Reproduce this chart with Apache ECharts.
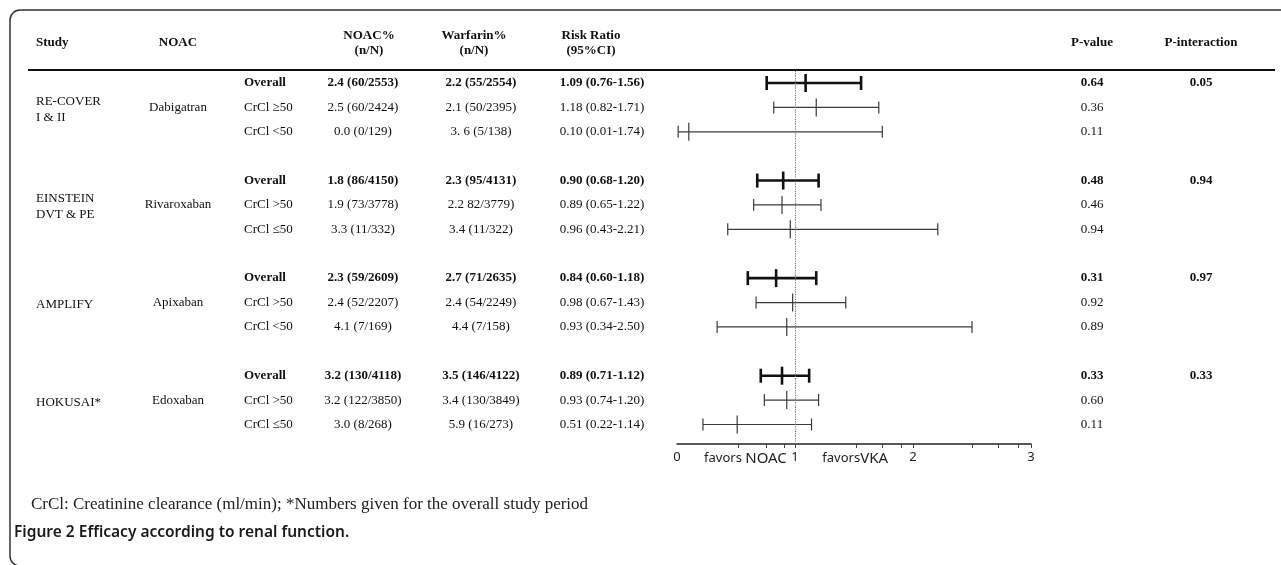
<!DOCTYPE html>
<html>
<head>
<meta charset="utf-8">
<title>Efficacy according to renal function</title>
<script src="https://cdn.jsdelivr.net/npm/echarts@6/dist/echarts.min.js"></script>
<style>
  html, body { margin: 0; padding: 0; background: #fff; }
  #chart { width: 1281px; height: 565px; }
</style>
</head>
<body>
<div id="chart"></div>
<script>
  // study level
  var studies = ['RE-COVER\nI & II', 'EINSTEIN\nDVT & PE', 'AMPLIFY', 'HOKUSAI*'];
  var drugs = ['Dabigatran', 'Rivaroxaban', 'Apixaban', 'Edoxaban'];
  var groupRow = [1, 5, 9, 13];
  var pInteraction = ['0.05', '0.94', '0.97', '0.33'];

  // subgroup rows (row index leaves a blank row between studies)
  var rows = [0, 1, 2, 4, 5, 6, 8, 9, 10, 12, 13, 14];
  var subgroups = ['Overall', 'CrCl \u226550', 'CrCl <50',
                   'Overall', 'CrCl >50', 'CrCl \u226450',
                   'Overall', 'CrCl >50', 'CrCl <50',
                   'Overall', 'CrCl >50', 'CrCl \u226450'];
  var noacPct = ['2.4 (60/2553)', '2.5 (60/2424)', '0.0 (0/129)',
                 '1.8 (86/4150)', '1.9 (73/3778)', '3.3 (11/332)',
                 '2.3 (59/2609)', '2.4 (52/2207)', '4.1 (7/169)',
                 '3.2 (130/4118)', '3.2 (122/3850)', '3.0 (8/268)'];
  var warfPct = ['2.2 (55/2554)', '2.1 (50/2395)', '3. 6 (5/138)',
                 '2.3 (95/4131)', '2.2 82/3779)', '3.4 (11/322)',
                 '2.7 (71/2635)', '2.4 (54/2249)', '4.4 (7/158)',
                 '3.5 (146/4122)', '3.4 (130/3849)', '5.9 (16/273)'];
  var rr = [1.09, 1.18, 0.10, 0.90, 0.89, 0.96, 0.84, 0.98, 0.93, 0.89, 0.93, 0.51];
  var lo = [0.76, 0.82, 0.01, 0.68, 0.65, 0.43, 0.60, 0.67, 0.34, 0.71, 0.74, 0.22];
  var hi = [1.56, 1.71, 1.74, 1.20, 1.22, 2.21, 1.18, 1.43, 2.50, 1.12, 1.20, 1.14];
  var pValue = ['0.64', '0.36', '0.11', '0.48', '0.46', '0.94', '0.31', '0.92', '0.89', '0.33', '0.60', '0.11'];

  // x axis
  var axisLabels = [0, 0.58, 1, 1.51, 2, 3];
  var axisLabelText = ['0', '{s|favors} {b|NOAC}', '1', '{s|favors}{b|VKA}', '2', '3'];
  var axisTicks = [0.52, 0.76, 0.91, 1, 1.52, 1.74, 1.9, 2, 2.5, 2.72, 2.89, 3];

  var serif = "'Liberation Serif', 'Times New Roman', serif";
  var sans = "'Noto Sans', 'Open Sans', sans-serif";
  // column x positions: values / headers
  var col = { study: 36, drug: 178, sub: 244, noac: 363, warf: 481, rr: 602, p: 1092, pi: 1201 };
  var head = { noac: 369, warf: 474, rr: 591 };

  function fmt(v) { return v.toFixed(2); }

  function txt(x, y, text, bold, align) {
    return {
      type: 'text', x: x, y: y,
      style: {
        text: text,
        font: (bold ? 'bold ' : '') + '13px ' + serif,
        fill: '#111',
        align: align || 'center', verticalAlign: 'middle',
        textAlign: align || 'center', textVerticalAlign: 'middle',
        lineHeight: 16
      }
    };
  }

  var myChart = echarts.init(document.getElementById('chart'));

  var option = {
    backgroundColor: '#fff',
    animation: false,
    grid: { left: 677, width: 354, top: 70.8, height: 373.2 },
    xAxis: {
      type: 'value', min: 0, max: 3,
      axisLine: { onZero: false, lineStyle: { color: '#222', width: 1.5 } },
      axisTick: { customValues: axisTicks, length: 4, lineStyle: { color: '#444' } },
      axisLabel: {
        customValues: axisLabels,
        margin: 7,
        color: '#222',
        fontFamily: sans,
        fontSize: 13,
        formatter: function (v) {
          return axisLabelText[axisLabels.indexOf(v)];
        },
        rich: {
          s: { fontFamily: sans, fontSize: 13, color: '#222' },
          b: { fontFamily: sans, fontSize: 15, color: '#222' }
        }
      },
      splitLine: { show: false }
    },
    yAxis: { type: 'value', inverse: true, min: -0.5, max: 14.8, show: false },
    graphic: [
      { type: 'rect', shape: { x: 10, y: 10, width: 1300, height: 556, r: 10 },
        style: { fill: 'none', stroke: '#333', lineWidth: 1.5 } },
      { type: 'line', shape: { x1: 28, y1: 70, x2: 1275, y2: 70 },
        style: { stroke: '#111', lineWidth: 2 } },
      txt(col.study, 43, 'Study', true, 'left'),
      txt(col.drug, 43, 'NOAC', true),
      txt(head.noac, 36, 'NOAC%', true),
      txt(head.noac, 51, '(n/N)', true),
      txt(head.warf, 36, 'Warfarin%', true),
      txt(head.warf, 51, '(n/N)', true),
      txt(head.rr, 36, 'Risk Ratio', true),
      txt(head.rr, 51, '(95%CI)', true),
      txt(col.p, 43, 'P-value', true),
      txt(col.pi, 43, 'P-interaction', true),
      { type: 'text', x: 31, y: 505,
        style: { text: 'CrCl: Creatinine clearance (ml/min); *Numbers given for the overall study period',
                 font: '17px ' + serif, fill: '#222', align: 'left', verticalAlign: 'middle',
                 textAlign: 'left', textVerticalAlign: 'middle' } },
      { type: 'text', x: 14, y: 533,
        style: { text: 'Figure 2 Efficacy according to renal function.',
                 font: '600 15.5px ' + sans, fill: '#1a1a1a', align: 'left', verticalAlign: 'middle',
                 textAlign: 'left', textVerticalAlign: 'middle' } }
    ],
    series: [
      {
        name: 'forest',
        type: 'custom',
        data: rows.map(function (r, i) { return [lo[i], rr[i], hi[i], r]; }),
        encode: { x: [0, 1, 2], y: 3 },
        renderItem: function (params, api) {
          var l = api.coord([api.value(0), api.value(3)]);
          var m = api.coord([api.value(1), api.value(3)]);
          var h = api.coord([api.value(2), api.value(3)]);
          var bold = subgroups[params.dataIndex] === 'Overall';
          var st = { stroke: bold ? '#111' : '#3a3a3a', lineWidth: bold ? 2.6 : 1.2 };
          var cap = bold ? 7 : 6;
          return {
            type: 'group',
            children: [
              { type: 'line', shape: { x1: l[0], y1: l[1], x2: h[0], y2: h[1] }, style: st },
              { type: 'line', shape: { x1: l[0], y1: l[1] - cap, x2: l[0], y2: l[1] + cap }, style: st },
              { type: 'line', shape: { x1: h[0], y1: h[1] - cap, x2: h[0], y2: h[1] + cap }, style: st },
              { type: 'line', shape: { x1: m[0], y1: m[1] - 9, x2: m[0], y2: m[1] + 9 }, style: st }
            ]
          };
        },
        markLine: {
          silent: true,
          symbol: 'none',
          label: { show: false },
          lineStyle: { type: 'dotted', color: '#777', width: 1.2 },
          data: [{ xAxis: 1 }]
        }
      },
      {
        name: 'table',
        type: 'custom',
        data: rows.map(function (r) { return [0, r]; }),
        renderItem: function (params, api) {
          var i = params.dataIndex;
          var y = api.coord([0, api.value(1)])[1];
          var bold = subgroups[i] === 'Overall';
          return {
            type: 'group',
            children: [
              txt(col.sub, y, subgroups[i], bold, 'left'),
              txt(col.noac, y, noacPct[i], bold),
              txt(col.warf, y, warfPct[i], bold),
              txt(col.rr, y, fmt(rr[i]) + ' (' + fmt(lo[i]) + '-' + fmt(hi[i]) + ')', bold),
              txt(col.p, y, pValue[i], bold)
            ]
          };
        }
      },
      {
        name: 'studies',
        type: 'custom',
        data: groupRow.map(function (r) { return [0, r]; }),
        renderItem: function (params, api) {
          var i = params.dataIndex;
          var y = api.coord([0, api.value(1)])[1];
          var yHead = api.coord([0, api.value(1) - 1])[1];
          return {
            type: 'group',
            children: [
              txt(col.study, y + 2, studies[i], false, 'left'),
              txt(col.drug, y, drugs[i], false),
              txt(col.pi, yHead, pInteraction[i], true)
            ]
          };
        }
      }
    ]
  };

  myChart.setOption(option);
</script>
</body>
</html>
